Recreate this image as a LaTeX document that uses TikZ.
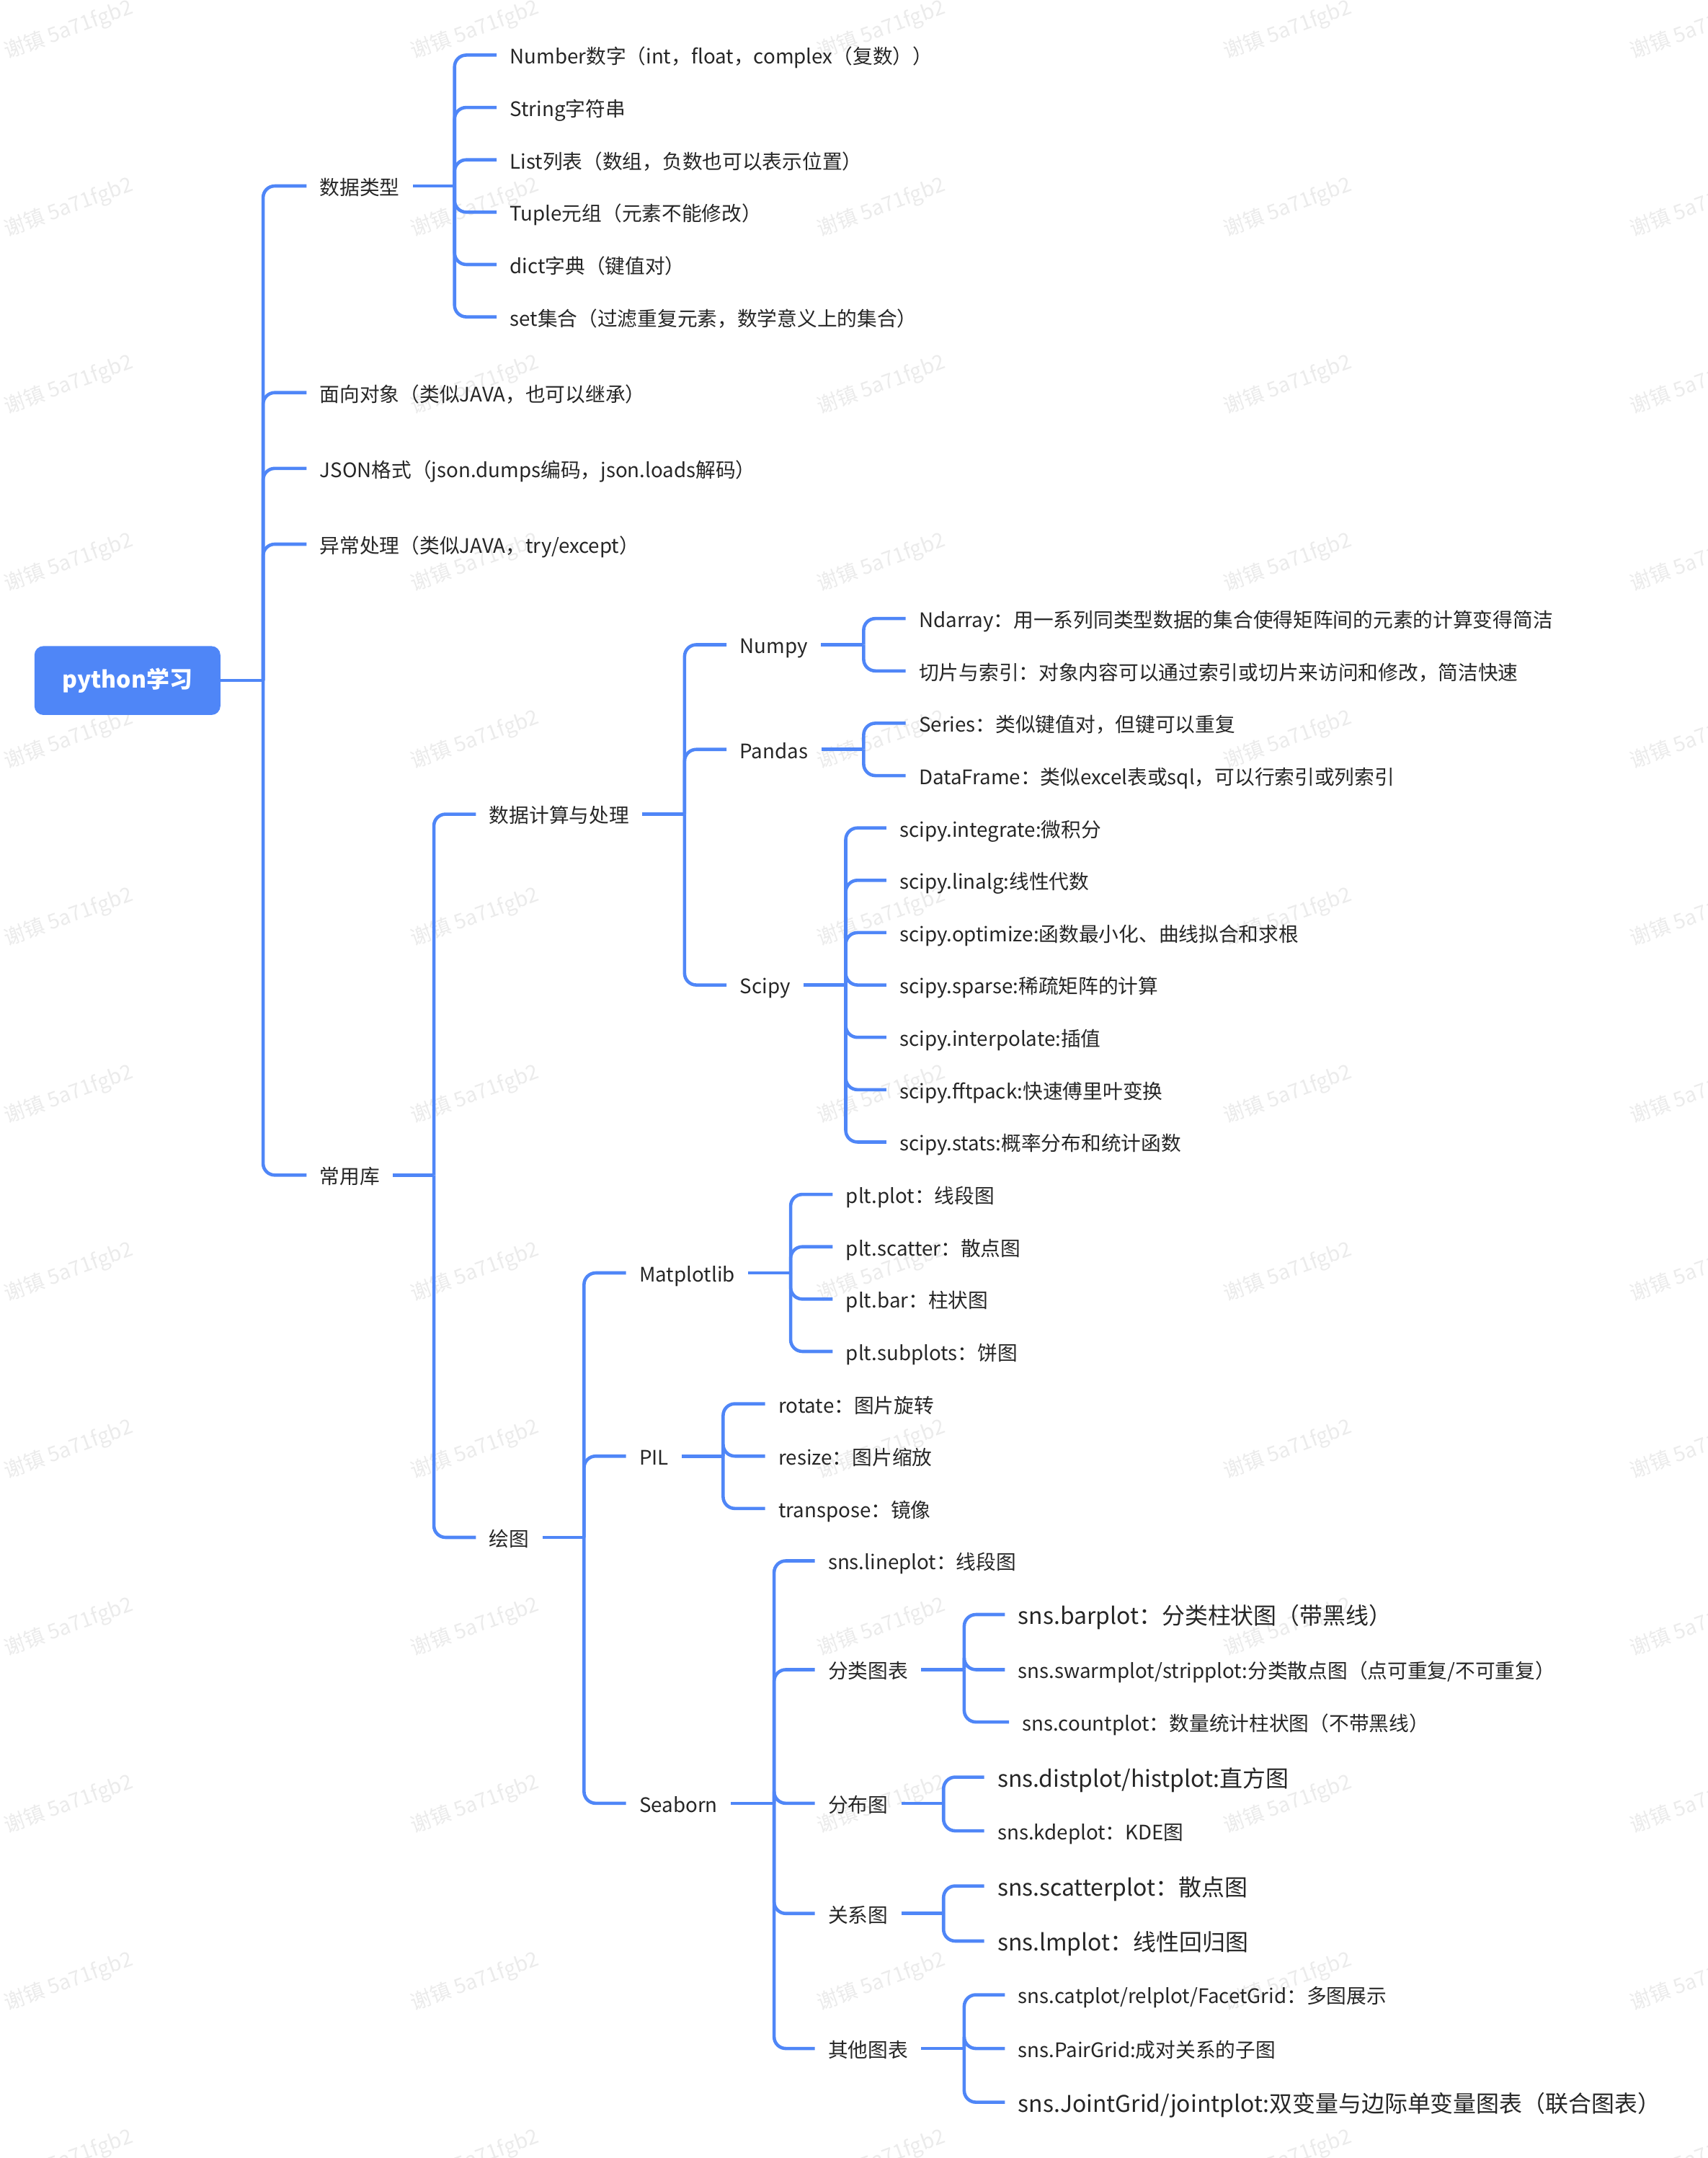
\documentclass[tikz,border=0pt]{standalone}
\usepackage{fontspec}
\setmainfont{Noto Sans CJK SC}
\usepackage{tikz}

\definecolor{lineblue}{HTML}{4F86F7}
\definecolor{txtcol}{HTML}{262626}
\definecolor{wmgray}{HTML}{EBEBEB}

\tikzset{
  link/.style={draw=lineblue, line width=2.4pt, rounded corners=8.5pt},
  topic/.style={anchor=west, inner xsep=9.5pt, inner ysep=0pt, text height=13pt, text depth=0pt,
    text=txtcol, font=\fontsize{14.5}{17}\selectfont},
  bigtopic/.style={topic, text height=14.6pt, font=\fontsize{16.7}{20}\selectfont},
  rootbox/.style={fill=lineblue, rounded corners=6.5pt, minimum width=135pt, minimum height=50pt,
    text=white, font=\fontsize{16.7}{20}\selectfont\bfseries},
  wmark/.style={text=wmgray, rotate=20, font=\fontsize{15}{18}\selectfont}
}

\begin{document}
\begin{tikzpicture}[x=1pt,y=-1pt]
        \useasboundingbox (0,0) rectangle (1240,1566.5);
        % watermark
        \begin{scope}
          \clip (0,0) rectangle (1240,1566.5);
          \foreach \i in {0,...,4}
            \foreach \j in {0,...,12}
              \node[wmark] (wm-\i-\j) at ({50+295*\i},{22+128.8*\j}) {谢镇 5a71fgb2};
        \end{scope}
        % root
        \node[rootbox] (root) at (92.5,494) {python学习};
        \coordinate (rootj) at (191,494);
        \node[topic] (dtype) at (222.5,135) {数据类型};
        \node[topic] (oop) at (222.5,285) {面向对象（类似JAVA，也可以继承）};
        \node[topic] (json) at (222.5,340) {JSON格式（json.dumps编码，json.loads解码）};
        \node[topic] (exc) at (222.5,395) {异常处理（类似JAVA，try/except）};
        \node[topic] (libs) at (222.5,853) {常用库};
        % data types
        \coordinate (dtypej) at (330,135);
        \node[topic] (tnum) at (360.5,40) {Number数字（int，float，complex（复数））};
        \node[topic] (tstr) at (360.5,78) {String字符串};
        \node[topic] (tlist) at (360.5,116) {List列表（数组，负数也可以表示位置）};
        \node[topic] (ttup) at (360.5,154) {Tuple元组（元素不能修改）};
        \node[topic] (tdict) at (360.5,192) {dict字典（键值对）};
        \node[topic] (tset) at (360.5,230) {set集合（过滤重复元素，数学意义上的集合）};
        % libraries
        \coordinate (libsj) at (315,853);
        \node[topic] (calc) at (345.5,591) {数据计算与处理};
        \node[topic] (plots) at (345.5,1116) {绘图};
        \coordinate (calcj) at (497,591);
        \node[topic] (numpy) at (527.5,468) {Numpy};
        \node[topic] (pandas) at (527.5,544) {Pandas};
        \node[topic] (scipy) at (527.5,715) {Scipy};
        \coordinate (numpyj) at (627,468);
        \node[topic] (nd) at (657.5,449) {Ndarray：用一系列同类型数据的集合使得矩阵间的元素的计算变得简洁};
        \node[topic] (slice) at (657.5,487) {切片与索引：对象内容可以通过索引或切片来访问和修改，简洁快速};
        \coordinate (pandasj) at (627,544);
        \node[topic] (series) at (657.5,525) {Series：类似键值对，但键可以重复};
        \node[topic] (frame) at (657.5,563) {DataFrame：类似excel表或sql，可以行索引或列索引};
        \coordinate (scipyj) at (614,715);
        \node[topic] (sp1) at (643.5,601) {scipy.integrate:微积分};
        \node[topic] (sp2) at (643.5,639) {scipy.linalg:线性代数};
        \node[topic] (sp3) at (643.5,677) {scipy.optimize:函数最小化、曲线拟合和求根};
        \node[topic] (sp4) at (643.5,715) {scipy.sparse:稀疏矩阵的计算};
        \node[topic] (sp5) at (643.5,753) {scipy.interpolate:插值};
        \node[topic] (sp6) at (643.5,791) {scipy.fftpack:快速傅里叶变换};
        \node[topic] (sp7) at (643.5,829) {scipy.stats:概率分布和统计函数};
        % plotting
        \coordinate (plotsj) at (424,1116);
        \node[topic] (mpl) at (454.5,924) {Matplotlib};
        \node[topic] (pil) at (454.5,1057) {PIL};
        \node[topic] (sns) at (454.5,1309) {Seaborn};
        \coordinate (mplj) at (574,924);
        \node[topic] (plt1) at (604.5,867) {plt.plot：线段图};
        \node[topic] (plt2) at (604.5,905) {plt.scatter：散点图};
        \node[topic] (plt3) at (604.5,943) {plt.bar：柱状图};
        \node[topic] (plt4) at (604.5,981) {plt.subplots：饼图};
        \coordinate (pilj) at (525,1057);
        \node[topic] (pil1) at (555.5,1019) {rotate：图片旋转};
        \node[topic] (pil2) at (555.5,1057) {resize：图片缩放};
        \node[topic] (pil3) at (555.5,1095) {transpose：镜像};
        \coordinate (snsj) at (562,1309);
        \node[topic] (sline) at (591.5,1133) {sns.lineplot：线段图};
        \node[topic] (scat) at (591.5,1212) {分类图表};
        \node[topic] (sdist) at (591.5,1309) {分布图};
        \node[topic] (srel) at (591.5,1389) {关系图};
        \node[topic] (sother) at (591.5,1487) {其他图表};
        \coordinate (scatj) at (700,1212);
        \node[bigtopic] (bar) at (729.5,1172) {sns.barplot：分类柱状图（带黑线）};
        \node[topic] (swarm) at (729.5,1212) {sns.swarmplot/stripplot:分类散点图（点可重复/不可重复）};
        \node[topic] (count) at (732.5,1250) {sns.countplot：数量统计柱状图（不带黑线）};
        \coordinate (sdistj) at (685,1309);
        \node[bigtopic] (hist) at (714.5,1290) {sns.distplot/histplot:直方图};
        \node[topic] (kde) at (714.5,1329) {sns.kdeplot：KDE图};
        \coordinate (srelj) at (685,1389);
        \node[bigtopic] (scatter) at (714.5,1369) {sns.scatterplot：散点图};
        \node[bigtopic] (lm) at (714.5,1409) {sns.lmplot：线性回归图};
        \coordinate (sotherj) at (700,1487);
        \node[topic] (multi) at (729.5,1448) {sns.catplot/relplot/FacetGrid：多图展示};
        \node[topic] (pair) at (729.5,1487) {sns.PairGrid:成对关系的子图};
        \node[bigtopic] (joint) at (729.5,1526) {sns.JointGrid/jointplot:双变量与边际单变量图表（联合图表）};
        % connectors
        \foreach \p/\kids in {root/{dtype,oop,json,exc,libs},
                              dtype/{tnum,tstr,tlist,ttup,tdict,tset},
                              libs/{calc,plots},
                              calc/{numpy,pandas,scipy},
                              numpy/{nd,slice},
                              pandas/{series,frame},
                              scipy/{sp1,sp2,sp3,sp4,sp5,sp6,sp7},
                              plots/{mpl,pil,sns},
                              mpl/{plt1,plt2,plt3,plt4},
                              pil/{pil1,pil2,pil3},
                              sns/{sline,scat,sdist,srel,sother},
                              scat/{bar,swarm,count},
                              sdist/{hist,kde},
                              srel/{scatter,lm},
                              sother/{multi,pair,joint}}{
          \draw[link] (\p.east) -- (\p j);
          \foreach \c in \kids
            \draw[link] (\p j) |- (\c.west);
        }
\end{tikzpicture}
\end{document}
